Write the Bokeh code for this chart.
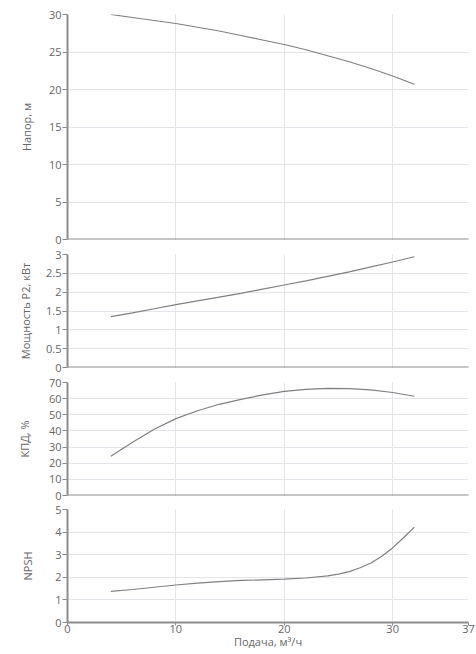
from bokeh.plotting import figure
from bokeh.layouts import column
from bokeh.models import Range1d, FixedTicker, NumeralTickFormatter, CustomLabelingPolicy
from bokeh.embed import file_html
from bokeh.resources import INLINE

# Flow (m3/h)
flow = [4, 6, 8, 10, 12, 14, 16, 18, 20, 22, 24, 26, 28, 30, 32]
head = [30.0, 29.6, 29.2, 28.8, 28.3, 27.8, 27.2, 26.6, 26.0, 25.3, 24.5, 23.7, 22.8, 21.8, 20.7]
power = [1.35, 1.45, 1.56, 1.67, 1.77, 1.87, 1.97, 2.08, 2.19, 2.30, 2.42, 2.54, 2.67, 2.80, 2.94]
eff = [24.3, 33.0, 41.0, 47.6, 52.5, 56.5, 59.5, 62.3, 64.5, 65.8, 66.3, 66.2, 65.4, 63.8, 61.5]
npsh_flow = [4, 6, 8, 10, 12, 14, 16, 18, 20, 22, 24, 25, 26, 27, 28, 29, 30, 31, 32]
npsh = [1.38, 1.46, 1.56, 1.66, 1.74, 1.81, 1.86, 1.89, 1.92, 1.97, 2.06, 2.14, 2.25, 2.42, 2.63, 2.93, 3.30, 3.75, 4.22]

x_ticks = [0, 10, 20, 30, 37]
head_ticks = [0, 5, 10, 15, 20, 25, 30]
power_ticks = [0, 0.5, 1, 1.5, 2, 2.5, 3]
eff_ticks = [0, 10, 20, 30, 40, 50, 60, 70]
npsh_ticks = [0, 1, 2, 3, 4, 5]

FONT = "Open Sans"
TXT = "#666666"
AX = "#8c8c8c"
GRID = "#e4e4ea"
LINE = "#808080"


def make(ylabel, ymax, yticks, border_top, border_bottom, label_standoff, last=False, fmt=None):
    p = figure(frame_width=401, frame_height=225 if ymax == 30 else 113,
               x_range=Range1d(0, 37), y_range=Range1d(0, ymax),
               output_backend="svg", toolbar_location=None,
               min_border_left=67, min_border_right=8,
               min_border_top=border_top, min_border_bottom=border_bottom)
    p.outline_line_color = None
    p.background_fill_color = "white"
    p.border_fill_color = "white"
    p.xaxis.ticker = FixedTicker(ticks=x_ticks)
    p.yaxis.ticker = FixedTicker(ticks=yticks)
    if fmt:
        p.yaxis.formatter = NumeralTickFormatter(format=fmt)
    for ax in (p.xaxis, p.yaxis):
        ax.axis_line_color = AX
        ax.axis_line_width = 2
        ax.major_tick_line_color = AX
        ax.major_tick_in = 0
        ax.minor_tick_line_color = None
        ax.major_label_text_font = FONT
        ax.major_label_text_color = TXT
        ax.major_label_text_font_size = "11px"
        ax.axis_label_text_font = FONT
        ax.axis_label_text_color = TXT
        ax.axis_label_text_font_size = "11px"
        ax.axis_label_text_font_style = "normal"
    p.yaxis.major_tick_out = 5
    p.yaxis.major_label_standoff = 1
    p.yaxis.axis_label = ylabel
    p.yaxis.axis_label_standoff = label_standoff
    p.xaxis.major_tick_out = 3
    if last:
        p.xaxis.major_label_standoff = -1
        p.xaxis.axis_label = "Подача, м³/ч"
        p.xaxis.axis_label_standoff = -2
    else:
        p.xaxis.major_label_standoff = 0
        p.xaxis.fixed_location = 0
        p.xaxis.major_label_policy = CustomLabelingPolicy(code="return new Set()")
    p.xgrid.ticker = FixedTicker(ticks=x_ticks)
    p.ygrid.ticker = FixedTicker(ticks=yticks)
    p.xgrid.grid_line_color = GRID
    p.ygrid.grid_line_color = GRID
    return p


p1 = make("Напор, м", 30, head_ticks, 14, 7, 12)
p1.line(flow, head, line_color=LINE, line_width=1.2)

p2 = make("Мощность P2, кВт", 3, power_ticks, 8, 7, 10, fmt="0.[0]")
p2.line(flow, power, line_color=LINE, line_width=1.2)

p3 = make("КПД, %", 70, eff_ticks, 8, 7, 14)
p3.line(flow, eff, line_color=LINE, line_width=1.2)

p4 = make("NPSH", 5, npsh_ticks, 7, 32, 17, last=True)
p4.line(npsh_flow, npsh, line_color=LINE, line_width=1.2)

layout = column(p1, p2, p3, p4, spacing=0)
open("out.html", "w").write(file_html(layout, INLINE))
